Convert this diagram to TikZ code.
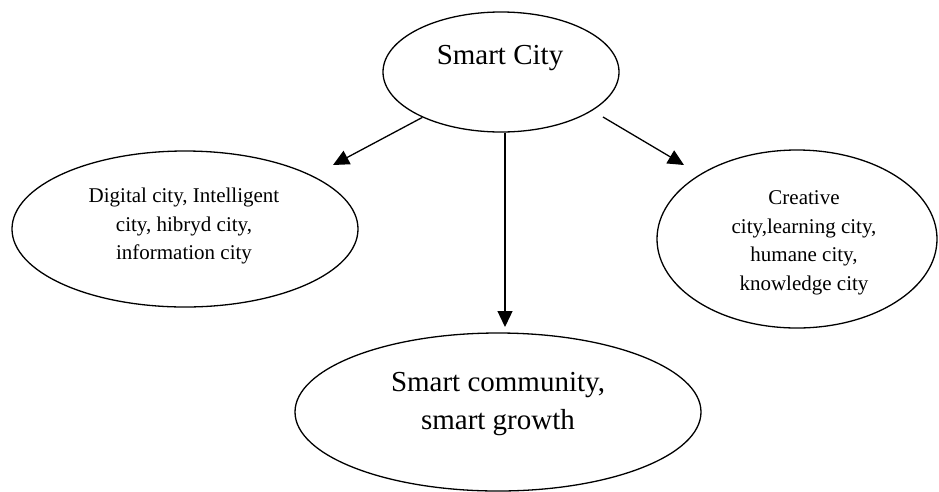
\documentclass[tikz,border=0pt]{standalone}
\usepackage{fontspec}
\setmainfont{Liberation Serif}
\usetikzlibrary{shapes.geometric,arrows.meta}
\tikzset{
  bubble/.style={draw=black, line width=1.3pt, ellipse, inner sep=0pt},
  bigtext/.style={font=\fontsize{29}{38}\selectfont, align=center, inner sep=0pt},
  smalltext/.style={font=\fontsize{21}{28.5}\selectfont, align=center, inner sep=0pt},
  link/.style={draw=black, line width=1.3pt, -{Triangle[length=16pt,width=15pt]}}
}
\begin{document}
\begin{tikzpicture}[x=1pt,y=-1pt]
  \useasboundingbox[fill=white] (0,0) rectangle (939,491);

  % ellipses
  \node[bubble, minimum width=236pt, minimum height=120pt] (top) at (501,72) {};
  \node[bubble, minimum width=346pt, minimum height=156pt] (left) at (185,229) {};
  \node[bubble, minimum width=280pt, minimum height=178pt] (right) at (797,239) {};
  \node[bubble, minimum width=406pt, minimum height=158pt] (bottom) at (498,412) {};

  % labels
  \node[bigtext] (toplabel) at (500,58) {Smart City};
  \node[smalltext] (leftlabel) at (184,226) {Digital city, Intelligent\\city, hibryd city,\\information city};
  \node[smalltext] (rightlabel) at (804,243) {Creative\\city,learning city,\\humane city,\\knowledge city};
  \node[bigtext] (bottomlabel) at (498,404) {Smart community,\\smart growth};

  % arrow ends
  \coordinate (rstart) at (603,117);
  \coordinate (lend) at (333,165);
  \coordinate (rend) at (684,165);
  \coordinate (bend) at (505,327);

  % connectors
  \draw[link] (top.210) -- (lend);
  \draw[link] (rstart) -- (rend);
  \draw[link] (top.south -| bend) -- (bend);
\end{tikzpicture}
\end{document}
